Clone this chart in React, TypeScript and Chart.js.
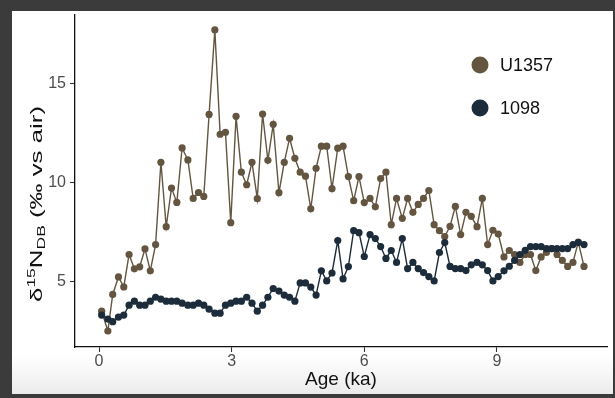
import React, { useEffect, useRef } from "react";
import { Chart, registerables } from "chart.js";

Chart.register(...registerables);

// ---- data ----
const ages = [
  0.06, 0.2, 0.31, 0.44, 0.56, 0.68, 0.8, 0.92, 1.04, 1.16, 1.28, 1.4, 1.52, 1.64, 1.76, 1.88,
  2.01, 2.13, 2.25, 2.37, 2.49, 2.62, 2.74, 2.86, 2.98, 3.1, 3.22, 3.34, 3.46, 3.58, 3.7, 3.82,
  3.94, 4.07, 4.19, 4.31, 4.43, 4.55, 4.67, 4.79, 4.91, 5.03, 5.15, 5.27, 5.4, 5.52, 5.64, 5.76,
  5.88, 6.0, 6.13, 6.25, 6.37, 6.49, 6.61, 6.73, 6.86, 6.98, 7.1, 7.22, 7.34, 7.46, 7.58, 7.7,
  7.82, 7.94, 8.06, 8.18, 8.3, 8.42, 8.55, 8.67, 8.79, 8.91, 9.03, 9.16, 9.28, 9.4, 9.52, 9.64,
  9.76, 9.88, 10.0, 10.12, 10.24, 10.36, 10.48, 10.6, 10.72, 10.84, 10.97,
];

const u1357 = [
  3.53, 2.53, 4.37, 5.25, 4.75, 6.38, 5.66, 5.76, 6.66, 5.56, 6.88, 11.02, 7.78, 9.72, 9.0, 11.74,
  11.14, 9.2, 9.5, 9.3, 13.43, 17.68, 12.43, 12.53, 7.98, 13.33, 10.52, 9.89, 11.02, 9.19, 13.45, 11.12,
  12.93, 9.49, 11.02, 12.23, 11.22, 10.52, 10.32, 8.68, 10.72, 11.83, 11.83, 9.69, 11.73, 11.83, 10.3, 9.09,
  10.3, 8.99, 9.2, 8.78, 10.2, 10.52, 7.88, 9.2, 8.2, 9.2, 8.5, 8.9, 9.2, 9.6, 7.88, 7.58,
  7.28, 7.8, 8.8, 7.38, 8.5, 8.3, 7.78, 9.2, 6.88, 7.6, 7.41, 6.26, 6.58, 6.38, 5.98, 6.38,
  6.38, 5.57, 6.26, 6.48, 6.68, 6.38, 6.08, 5.78, 5.98, 7.0, 5.78,
];

const site1098 = [
  3.33, 3.13, 3.0, 3.23, 3.33, 3.83, 4.03, 3.83, 3.83, 4.03, 4.23, 4.13, 4.03, 4.03, 4.03, 3.93,
  3.83, 3.83, 3.93, 3.83, 3.63, 3.43, 3.43, 3.83, 3.93, 4.03, 4.03, 4.23, 3.93, 3.53, 3.83, 4.23,
  4.67, 4.54, 4.34, 4.23, 4.03, 4.95, 4.95, 4.74, 4.34, 5.56, 5.05, 5.45, 7.08, 5.15, 5.77, 7.58,
  7.48, 6.28, 7.38, 7.18, 6.78, 6.18, 6.58, 5.98, 7.18, 5.67, 5.98, 5.67, 5.47, 5.27, 5.05, 6.48,
  6.98, 5.78, 5.67, 5.67, 5.57, 5.86, 5.98, 5.86, 5.57, 5.05, 5.27, 5.56, 5.79, 6.08, 6.38, 6.59,
  6.78, 6.78, 6.78, 6.68, 6.68, 6.68, 6.68, 6.68, 6.88, 6.98, 6.88,
];

const seriesLabels = ["U1357", "1098"];
const xTicks = [0, 3, 6, 9];
const yTicks = [5, 10, 15];
const xTitle = "Age (ka)";
const yTitleParts = ["δ", "15", "N", "DB", " (‰ vs air)"];

const COLORS = ["#635540", "#1d2c3a"];
const FONT = '"Liberation Sans", Arial, Helvetica, sans-serif';

const legendPlugin = {
  id: "customLegend",
  afterDraw(chart: any) {
    const ctx = chart.ctx;
    ctx.save();
    chart.data.datasets.forEach((ds: any, i: number) => {
      const cx = 468;
      const cy = 54 + i * 43;
      ctx.beginPath();
      ctx.arc(cx, cy, 8.5, 0, Math.PI * 2);
      ctx.fillStyle = ds.backgroundColor;
      ctx.fill();
      ctx.font = `18px ${FONT}`;
      ctx.fillStyle = "#111";
      ctx.textAlign = "left";
      ctx.textBaseline = "middle";
      ctx.fillText(ds.label, 488, cy + 1);
    });
    ctx.restore();
  },
};

const yTitlePlugin = {
  id: "yTitle",
  afterDraw(chart: any) {
    const ctx = chart.ctx;
    const parts = [
      { t: yTitleParts[0], size: 17, dy: 0 },
      { t: yTitleParts[1], size: 11.5, dy: -7 },
      { t: yTitleParts[2], size: 17, dy: 0 },
      { t: yTitleParts[3], size: 11.5, dy: 3 },
      { t: yTitleParts[4], size: 17, dy: 0 },
    ];
    ctx.save();
    let total = 0;
    const widths = parts.map((p) => {
      ctx.font = `${p.size}px ${FONT}`;
      const w = ctx.measureText(p.t).width;
      total += w;
      return w;
    });
    const target = 196;
    const s = target / total;
    ctx.translate(30, 193);
    ctx.rotate(-Math.PI / 2);
    ctx.scale(s, 1);
    ctx.fillStyle = "#111";
    ctx.textAlign = "left";
    ctx.textBaseline = "alphabetic";
    let x = -total / 2;
    parts.forEach((p, i) => {
      ctx.font = `${p.size}px ${FONT}`;
      ctx.fillText(p.t, x, p.dy);
      x += widths[i];
    });
    ctx.restore();
  },
};

export default function App() {
  const ref = useRef<HTMLCanvasElement | null>(null);

  useEffect(() => {
    if (!ref.current) return;
    const mk = (vals: number[]) => ages.map((a, i) => ({ x: a, y: vals[i] }));
    const chart = new Chart(ref.current, {
      type: "line",
      data: {
        datasets: [
          {
            label: seriesLabels[0],
            data: mk(u1357),
            borderColor: COLORS[0],
            backgroundColor: COLORS[0],
            pointBackgroundColor: COLORS[0],
            pointBorderWidth: 0,
            pointRadius: 3.6,
            borderWidth: 1.4,
            tension: 0,
            order: 1,
          },
          {
            label: seriesLabels[1],
            data: mk(site1098),
            borderColor: COLORS[1],
            backgroundColor: COLORS[1],
            pointBackgroundColor: COLORS[1],
            pointBorderWidth: 0,
            pointRadius: 3.6,
            borderWidth: 1.4,
            tension: 0,
            order: 0,
          },
        ],
      },
      options: {
        responsive: false,
        animation: false,
        devicePixelRatio: 1,
        layout: { padding: { top: 3, right: 6, left: 0, bottom: 0 } },
        plugins: {
          legend: { display: false },
          tooltip: { enabled: false },
        },
        scales: {
          x: {
            type: "linear",
            min: -0.543,
            max: 11.49,
            afterBuildTicks: (scale: any) => {
              scale.ticks = xTicks.map((v) => ({ value: v }));
            },
            afterFit: (scale: any) => {
              scale.height = 47;
              scale.paddingLeft = 0;
              scale.paddingRight = 0;
            },
            grid: {
              drawOnChartArea: false,
              drawTicks: true,
              tickLength: 5,
              tickColor: "#333",
              tickWidth: 1.1,
            },
            border: { display: true, color: "#111", width: 1.3 },
            ticks: {
              padding: 0,
              color: "#4d4d4d",
              font: { family: FONT, size: 16 },
              maxRotation: 0,
            },
            title: {
              display: true,
              text: xTitle,
              color: "#111",
              font: { family: FONT, size: 19 },
              padding: { top: 0, bottom: 2.6 },
            },
          },
          y: {
            type: "linear",
            min: 1.726,
            max: 18.43,
            afterBuildTicks: (scale: any) => {
              scale.ticks = yTicks.map((v) => ({ value: v }));
            },
            afterFit: (scale: any) => {
              scale.width = 63;
              scale.paddingTop = 0;
              scale.paddingBottom = 0;
            },
            grid: {
              drawOnChartArea: false,
              drawTicks: true,
              tickLength: 5,
              tickColor: "#333",
              tickWidth: 1.1,
            },
            border: { display: true, color: "#111", width: 1.3 },
            ticks: {
              padding: 4,
              color: "#4d4d4d",
              font: { family: FONT, size: 16 },
            },
            title: { display: false },
          },
        },
      },
      plugins: [legendPlugin, yTitlePlugin],
    });
    return () => chart.destroy();
  }, []);

  return (
    <div
      style={{
        position: "fixed",
        left: 0,
        top: 0,
        width: 615,
        height: 398,
        background: "#3b3b3b",
        overflow: "hidden",
      }}
    >
      <div
        style={{
          position: "absolute",
          left: 12,
          top: 11,
          width: 601,
          height: 383,
          background: "linear-gradient(to bottom, #ffffff 0%, #ffffff 90%, #ebebeb 100%)",
        }}
      >
        <canvas ref={ref} width={601} height={383} style={{ display: "block", width: 601, height: 383 }} />
      </div>
    </div>
  );
}
